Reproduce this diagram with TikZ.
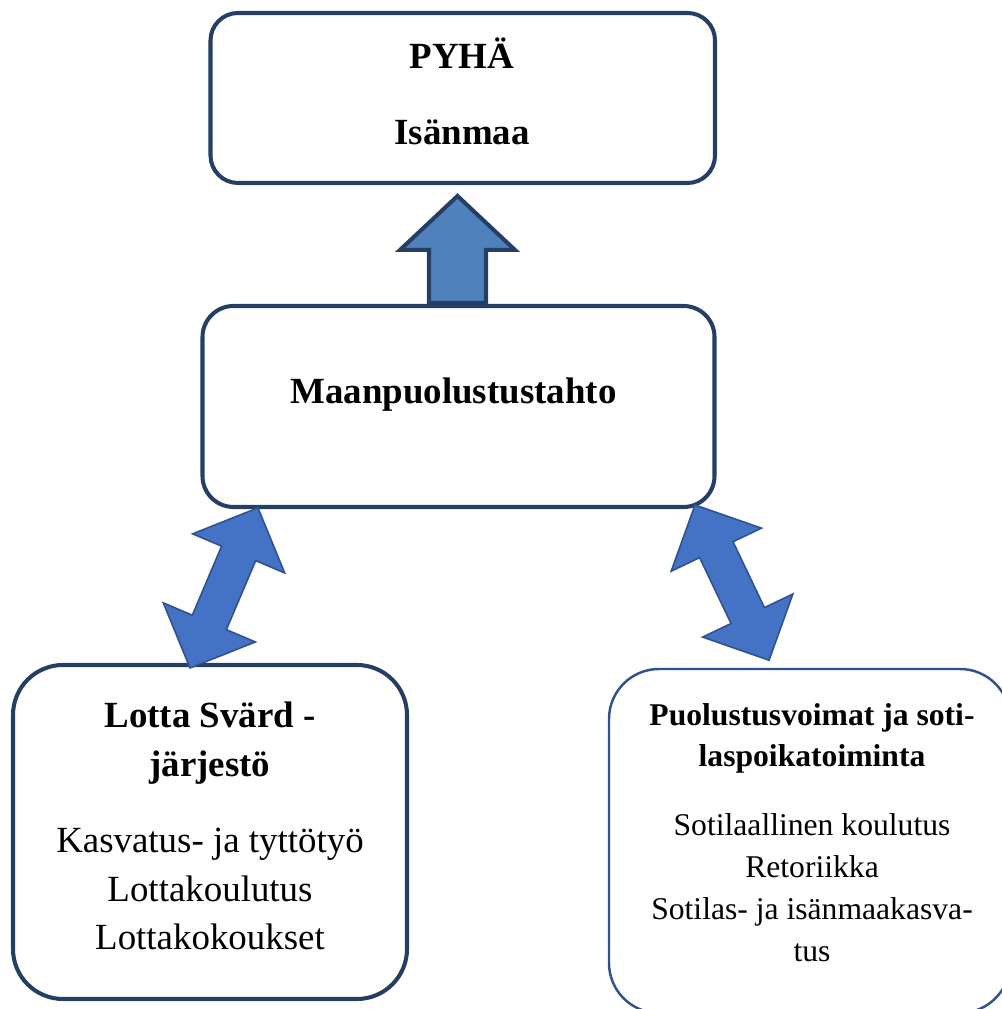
\documentclass[tikz,border=0pt]{standalone}
\usepackage{fontspec}
\setmainfont{Liberation Serif}
\usetikzlibrary{positioning,calc}

\definecolor{boxnavy}{RGB}{36,63,99}
\definecolor{upfill}{RGB}{79,129,189}
\definecolor{dblfill}{RGB}{68,114,196}
\definecolor{dblline}{RGB}{47,82,143}

% double block arrow: tip, angle, length
\newcommand{\twoway}[3]{%
\begin{scope}[shift={(#1)}, rotate=#2]
\draw[dblarrow] (0,0) -- (0.99,1.0) -- (0.99,0.37) -- ({#3-0.99},0.37) -- ({#3-0.99},1.0) -- (#3,0)
  -- ({#3-0.99},-1.0) -- ({#3-0.99},-0.37) -- (0.99,-0.37) -- (0.99,-1.0) -- cycle;
\end{scope}}

\begin{document}
\begin{tikzpicture}[
  box/.style={draw=boxnavy, line width=2.3pt, rounded corners=#1, inner sep=0pt},
  thinbox/.style={draw=dblline, line width=1.4pt, rounded corners=#1, inner sep=0pt},
  uparrow/.style={draw=boxnavy, fill=upfill, line width=2.3pt},
  dblarrow/.style={draw=dblline, fill=dblfill, line width=0.9pt},
  bigbold/.style={font=\fontsize{21}{#1}\selectfont\bfseries, align=center, anchor=base, inner sep=0pt},
  bigtxt/.style={font=\fontsize{21}{#1}\selectfont, align=center, anchor=base, inner sep=0pt},
  smallbold/.style={font=\fontsize{18}{23.8}\selectfont\bfseries, align=center, anchor=base, inner sep=0pt},
  smalltxt/.style={font=\fontsize{18}{24}\selectfont, align=center, anchor=base, inner sep=0pt}]
\useasboundingbox (0,0) rectangle (20.02,20.18);

% boxes
\node[box=0.55cm, minimum width=10.09cm, minimum height=3.4cm] (pyha) at (9.255,18.22) {};
\node[box=0.62cm, minimum width=10.24cm, minimum height=4.02cm] (tahto) at (9.17,12.05) {};
\node[box=1.0cm, minimum width=7.88cm, minimum height=6.68cm] (lotta) at (4.2,3.54) {};
\node[thinbox=1.0cm, minimum width=8.02cm, minimum height=6.88cm] (puol) at (16.19,3.36) {};

% texts (base = last line)
\node[bigbold=43.6] (pyhaT) at (9.24,17.28) {PYHÄ\\Isänmaa};
\node[bigbold=28] (tahtoT) at (9.07,12.1) {Maanpuolustustahto};
\node[bigbold=28.35] (lottaT) at (4.2,4.64) {Lotta Svärd -\\järjestö};
\node[bigtxt=27.8] (lottaL) at (4.2,1.18) {Kasvatus- ja tyttötyö\\Lottakoulutus\\Lottakokoukset};
\node[smallbold] (puolT) at (16.24,4.84) {Puolustusvoimat ja soti-\\laspoikatoiminta};
\node[smalltxt] (puolL) at (16.24,0.94) {Sotilaallinen koulutus\\Retoriikka\\Sotilas- ja isänmaakasva-\\tus};

% arrows
\coordinate (upfoot) at ($(tahto.north)+(-0.02,0.02)$);
\begin{scope}[shift={(upfoot)}, rotate=90]
\draw[uparrow] (0,-0.57) -- (1.06,-0.57) -- (1.06,-1.15) -- (2.14,0) -- (1.06,1.15) -- (1.06,0.57) -- (0,0.57) -- cycle;
\end{scope}
\coordinate (lottatip) at (3.8,6.82);
\coordinate (puoltip) at (13.9,10.08);
\twoway{lottatip}{67}{3.48}
\twoway{puoltip}{-64.5}{3.44}
\end{tikzpicture}
\end{document}
